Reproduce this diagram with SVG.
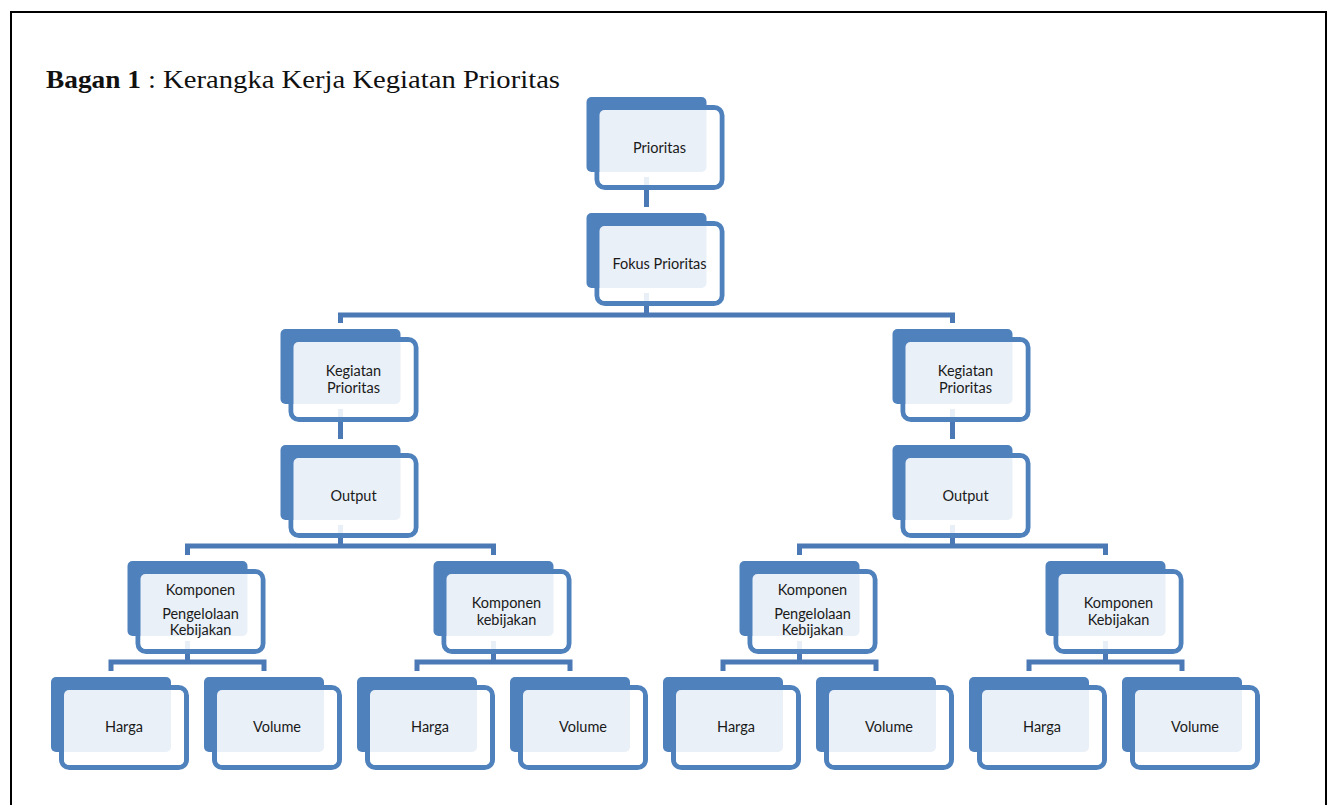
<svg xmlns="http://www.w3.org/2000/svg" width="1329" height="805" viewBox="0 0 1329 805">
<style>
.conn{fill:none;stroke:#4a79b5;stroke-width:5;stroke-linejoin:miter;stroke-linecap:butt}
.frame{fill:none;stroke:#4f81bd;stroke-width:5}
.back{fill:#4f81bd}
.veil{fill:#ffffff;fill-opacity:0.88}
.lbl{font-family:Lato,"Open Sans","Liberation Sans",sans-serif;font-size:14.5px;fill:#1a1a1a;text-anchor:middle}
.title{font-family:"Liberation Serif","DejaVu Serif",serif;font-size:25px;fill:#111}
</style>
<defs>
<g id="box">
<rect class="frame" x="10.5" y="10.5" width="125" height="80" rx="8"/>
<rect class="back" x="0" y="0" width="120" height="75" rx="5"/>
<rect class="veil" x="13" y="13" width="120" height="75" rx="5"/>
</g>
</defs>
<rect x="11" y="12" width="1315" height="800" fill="#fff" stroke="#000" stroke-width="2"/>
<text class="title" x="46" y="88" font-weight="bold" textLength="95" lengthAdjust="spacingAndGlyphs">Bagan 1</text>
<text class="title" x="148" y="88" textLength="412" lengthAdjust="spacingAndGlyphs">: Kerangka Kerja Kegiatan Prioritas</text>
<g id="connectors">
<path class="conn" d="M646.5 177V207"/>
<path class="conn" d="M646.5 293V315M340.5 323V315H952.5V323"/>
<path class="conn" d="M340.5 409V439M952.5 409V439"/>
<path class="conn" d="M340.5 525V546M187.5 555V546H493.5V555"/>
<path class="conn" d="M952.5 525V546M799.5 555V546H1105.5V555"/>
<path class="conn" d="M187.5 641V662M111 671V662H264V671"/>
<path class="conn" d="M493.5 641V662M417 671V662H570V671"/>
<path class="conn" d="M799.5 641V662M723 671V662H876V671"/>
<path class="conn" d="M1105.5 641V662M1029 671V662H1182V671"/>
</g>
<g id="n-prioritas"><use href="#box" x="586.5" y="97"/><text class="lbl" x="659.5" y="152.5">Prioritas</text></g>
<g id="n-fokus"><use href="#box" x="586.5" y="213"/><text class="lbl" x="659.5" y="268.5">Fokus Prioritas</text></g>
<g id="n-kegiatan-l"><use href="#box" x="280.5" y="329"/><text class="lbl" x="353.5" y="375.5">Kegiatan</text><text class="lbl" x="353.5" y="392.5">Prioritas</text></g>
<g id="n-kegiatan-r"><use href="#box" x="892.5" y="329"/><text class="lbl" x="965.5" y="375.5">Kegiatan</text><text class="lbl" x="965.5" y="392.5">Prioritas</text></g>
<g id="n-output-l"><use href="#box" x="280.5" y="445"/><text class="lbl" x="353.5" y="500.5">Output</text></g>
<g id="n-output-r"><use href="#box" x="892.5" y="445"/><text class="lbl" x="965.5" y="500.5">Output</text></g>
<g id="n-komp1"><use href="#box" x="127.5" y="561"/><text class="lbl" x="200.5" y="595">Komponen</text><text class="lbl" x="200.5" y="619">Pengelolaan</text><text class="lbl" x="200.5" y="635">Kebijakan</text></g>
<g id="n-komp2"><use href="#box" x="433.5" y="561"/><text class="lbl" x="506.5" y="608">Komponen</text><text class="lbl" x="506.5" y="625">kebijakan</text></g>
<g id="n-komp3"><use href="#box" x="739.5" y="561"/><text class="lbl" x="812.5" y="595">Komponen</text><text class="lbl" x="812.5" y="619">Pengelolaan</text><text class="lbl" x="812.5" y="635">Kebijakan</text></g>
<g id="n-komp4"><use href="#box" x="1045.5" y="561"/><text class="lbl" x="1118.5" y="608">Komponen</text><text class="lbl" x="1118.5" y="625">Kebijakan</text></g>
<g id="n-harga1"><use href="#box" x="51" y="677"/><text class="lbl" x="124" y="732">Harga</text></g>
<g id="n-volume1"><use href="#box" x="204" y="677"/><text class="lbl" x="277" y="732">Volume</text></g>
<g id="n-harga2"><use href="#box" x="357" y="677"/><text class="lbl" x="430" y="732">Harga</text></g>
<g id="n-volume2"><use href="#box" x="510" y="677"/><text class="lbl" x="583" y="732">Volume</text></g>
<g id="n-harga3"><use href="#box" x="663" y="677"/><text class="lbl" x="736" y="732">Harga</text></g>
<g id="n-volume3"><use href="#box" x="816" y="677"/><text class="lbl" x="889" y="732">Volume</text></g>
<g id="n-harga4"><use href="#box" x="969" y="677"/><text class="lbl" x="1042" y="732">Harga</text></g>
<g id="n-volume4"><use href="#box" x="1122" y="677"/><text class="lbl" x="1195" y="732">Volume</text></g>
</svg>
